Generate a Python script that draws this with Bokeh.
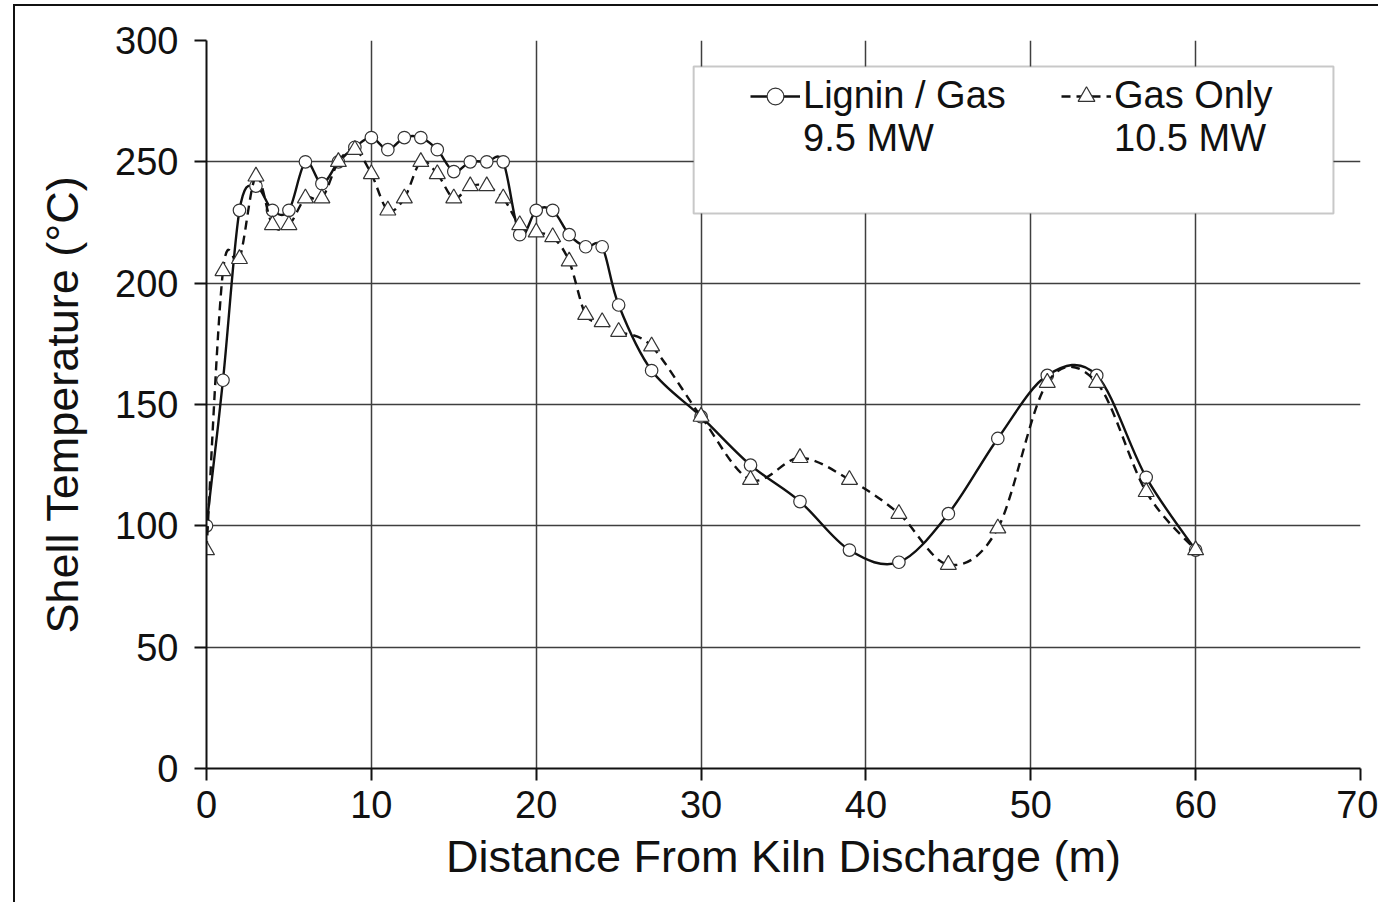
import numpy as np
from bokeh.plotting import figure
from bokeh.models import (ColumnDataSource, Legend, LegendItem, FixedTicker, Range1d,
                          BoxAnnotation)
from bokeh.embed import file_html
from bokeh.resources import INLINE

# ---- data ----
distance_m = [0, 1, 2, 3, 4, 5, 6, 7, 8, 9,
              10, 11, 12, 13, 14, 15, 16, 17, 18, 19,
              20, 21, 22, 23, 24, 25,
              27, 30, 33, 36, 39, 42, 45, 48, 51, 54, 57, 60]
lignin_gas_c = [100, 160, 230, 240, 230, 230, 250, 241, 250, 256,
                260, 255, 260, 260, 255, 246, 250, 250, 250, 220,
                230, 230, 220, 215, 215, 191,
                164, 145, 125, 110, 90, 85, 105, 136, 162, 162, 120, 90]
gas_only_c = [90, 205, 210, 244, 224, 224, 235, 235, 250, 255,
              245, 230, 235, 250, 245, 235, 240, 240, 235, 224,
              221, 219, 209, 187, 184, 180,
              174, 145, 119, 128, 119, 105, 84, 99, 159, 159, 114, 90]
x_ticks = [0, 10, 20, 30, 40, 50, 60, 70]
y_ticks = [0, 50, 100, 150, 200, 250, 300]
series_names = ["Lignin / Gas", "Gas Only"]
series_power = ["9.5 MW", "10.5 MW"]

FONT = "Liberation Sans"
INK = "#111111"


def smooth_segments(xs, ys, t=1.0 / 6.0):
    """Bezier control points for a smoothed (Catmull-Rom style) line."""
    xs = np.asarray(xs, float)
    ys = np.asarray(ys, float)
    n = len(xs)
    i = np.arange(n - 1)
    im1 = np.clip(i - 1, 0, n - 1)
    ip2 = np.clip(i + 2, 0, n - 1)
    return dict(
        x0=xs[i], y0=ys[i], x1=xs[i + 1], y1=ys[i + 1],
        cx0=xs[i] + (xs[i + 1] - xs[im1]) * t,
        cy0=ys[i] + (ys[i + 1] - ys[im1]) * t,
        cx1=xs[i + 1] - (xs[ip2] - xs[i]) * t,
        cy1=ys[i + 1] - (ys[ip2] - ys[i]) * t,
    )


p = figure(width=1365, height=898,
           x_range=Range1d(0, 70), y_range=Range1d(0, 300),
           output_backend="svg", toolbar_location=None,
           min_border_left=191, min_border_right=20,
           min_border_top=34, min_border_bottom=136)
p.styles = {"margin-left": "13px", "margin-top": "4px",
            "border-left": "2px solid #111111", "border-top": "2px solid #111111"}
p.outline_line_color = None
p.background_fill_color = "white"
p.border_fill_color = "white"

for ax, ticks in ((p.xaxis, x_ticks), (p.yaxis, y_ticks)):
    ax.ticker = FixedTicker(ticks=ticks)
    ax.axis_line_color = INK
    ax.axis_line_width = 2
    ax.major_tick_line_color = INK
    ax.major_tick_line_width = 2
    ax.major_tick_out = 12
    ax.major_tick_in = 0
    ax.minor_tick_line_color = None
    ax.major_label_text_font = FONT
    ax.major_label_text_font_size = "38px"
    ax.major_label_text_color = INK
    ax.axis_label_text_font = FONT
    ax.axis_label_text_font_size = "45px"
    ax.axis_label_text_font_style = "normal"
    ax.axis_label_text_color = INK

p.xaxis.axis_label = "Distance From Kiln Discharge (m)"
p.yaxis.axis_label = "Shell Temperature (°C)"
p.xaxis.major_label_standoff = 10
p.yaxis.major_label_standoff = 16
p.xaxis.axis_label_standoff = 10
p.yaxis.axis_label_standoff = 24

for g in (p.xgrid, p.ygrid):
    g.grid_line_color = "#3f3f3f"
    g.grid_line_width = 1.5

src1 = ColumnDataSource(smooth_segments(distance_m, lignin_gas_c))
src2 = ColumnDataSource(smooth_segments(distance_m, gas_only_c))
pts = ColumnDataSource(dict(x=distance_m, lignin=lignin_gas_c, gas=gas_only_c))

l1 = p.bezier(x0="x0", y0="y0", x1="x1", y1="y1", cx0="cx0", cy0="cy0",
              cx1="cx1", cy1="cy1", source=src1, line_color=INK, line_width=2.4)
s1 = p.scatter("x", "lignin", source=pts, marker="circle", size=12.5,
               fill_color="white", line_color="#333333", line_width=1.2)
l2 = p.bezier(x0="x0", y0="y0", x1="x1", y1="y1", cx0="cx0", cy0="cy0",
              cx1="cx1", cy1="cy1", source=src2, line_color=INK, line_width=2.4,
              line_dash="9 6")
s2 = p.scatter("x", "gas", source=pts, marker="triangle", size=16,
               fill_color="white", line_color="#333333", line_width=1.2)

# legend frame (white box with grey border, as in the original)
legend_frame = BoxAnnotation(left=29.55, right=68.36, bottom=228.7, top=289.3,
                             fill_color="white", fill_alpha=1.0,
                             line_color="#4a4a4a", line_width=2)
p.add_layout(legend_frame)

legend = Legend(items=[LegendItem(label=series_names[0], renderers=[l1, s1]),
                       LegendItem(label=series_names[1], renderers=[l2, s2]),
                       LegendItem(label=series_power[0], renderers=[]),
                       LegendItem(label=series_power[1], renderers=[])],
                orientation="horizontal", ncols=2,
                location=(544, 608),
                glyph_width=50, glyph_height=42, label_height=42,
                label_standoff=3, spacing=0, padding=0, margin=0,
                label_width=258,
                label_text_font=FONT, label_text_font_size="38px",
                label_text_color=INK,
                border_line_color=None, background_fill_alpha=0.0)
p.add_layout(legend, "center")

open("out.html", "w").write(file_html(p, INLINE))
